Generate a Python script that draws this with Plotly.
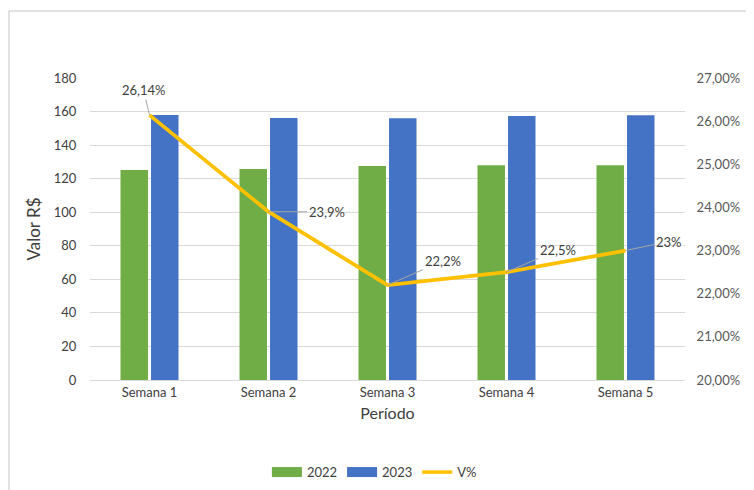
import plotly.graph_objects as go

categorias = ["Semana 1", "Semana 2", "Semana 3", "Semana 4", "Semana 5"]
valores_2022 = [125.2, 125.8, 127.5, 128.0, 128.0]
valores_2023 = [158.0, 156.2, 156.0, 157.4, 157.8]
variacao = [26.14, 23.9, 22.2, 22.5, 23.0]
rotulos_var = ["26,14%", "23,9%", "22,2%", "22,5%", "23%"]
label_offsets = [(-6, -25), (58, 0), (55, -24), (51, -22), (43, -9)]

font_family = "Lato, 'Open Sans', sans-serif"
txt = "#595959"
dark = "#404040"
grid = "#D9D9D9"
c2022, c2023, cvar = "#70AD47", "#4472C4", "#FFC000"

fig = go.Figure()
fig.add_trace(go.Bar(x=categorias, y=valores_2022, name="2022", showlegend=False,
                     marker=dict(color=c2022, line=dict(width=0))))
fig.add_trace(go.Bar(x=categorias, y=valores_2023, name="2023", showlegend=False,
                     marker=dict(color=c2023, line=dict(width=0))))
fig.add_trace(go.Scatter(x=categorias, y=variacao, name="V%", yaxis="y2",
                         mode="lines", line=dict(color=cvar, width=3.8), showlegend=False))

# legend proxies (Excel-style wide swatches)
for nome, cor, w in [("2022", c2022, 10), ("2023", c2023, 10), ("V%", cvar, 3.5)]:
    fig.add_trace(go.Scatter(x=[None], y=[None], name=nome, mode="lines",
                             line=dict(color=cor, width=w), showlegend=True))

annotations = []
for c, v, t, (ax, ay) in zip(categorias, variacao, rotulos_var, label_offsets):
    annotations.append(dict(x=c, y=v, xref="x", yref="y2", text=t,
                            showarrow=True, arrowhead=0, arrowwidth=1,
                            arrowcolor="#A6A6A6", ax=ax, ay=ay, standoff=0,
                            font=dict(size=13, color=dark, family=font_family)))

# page body has an 8px margin: figure coords = screen coords - 8
OFF = 8
W, H = 754, 490
ml, mt = 90 - OFF, 78 - OFF
mr = W - (685 - OFF)
mb = H - (380 - OFF)
pw, ph = W - ml - mr, H - mt - mb

def px_x(p):
    return (p - OFF - ml) / pw

def px_y(p):
    return 1 - (p - OFF - mt) / ph

shapes = [
    dict(type="line", xref="paper", yref="paper", x0=px_x(9), x1=px_x(9),
         y0=px_y(700), y1=px_y(11), line=dict(color=grid, width=1.5)),
    dict(type="line", xref="paper", yref="paper", x0=px_x(9), x1=px_x(900),
         y0=px_y(11), y1=px_y(11), line=dict(color=grid, width=1.5)),
]

fig.update_layout(
    width=W, height=H,
    margin=dict(l=ml, r=mr, t=mt, b=mb, autoexpand=False),
    paper_bgcolor="white", plot_bgcolor="white",
    font=dict(family=font_family, color=txt, size=13),
    separators=",.",
    barmode="group", bargap=0.487, bargroupgap=0.1,
    xaxis=dict(showgrid=False, showline=True, linecolor=grid, linewidth=1,
               ticks="", automargin=False, tickfont=dict(size=13, color=dark),
               title=dict(text="Período", font=dict(size=16, color=dark), standoff=9)),
    yaxis=dict(range=[0, 180], dtick=20, showgrid=True, gridcolor=grid, gridwidth=1,
               zeroline=False, showline=False, ticks="outside", ticklen=10,
               tickcolor="rgba(0,0,0,0)", automargin=False,
               tickfont=dict(size=13, color=dark),
               title=dict(text="Valor R$", font=dict(size=17, color=dark), standoff=8)),
    yaxis2=dict(range=[20, 27], dtick=1, overlaying="y", side="right",
                showgrid=False, zeroline=False, showline=False,
                ticks="outside", ticklen=8, tickcolor="rgba(0,0,0,0)", automargin=False,
                tickformat=".2f", ticksuffix="%",
                tickfont=dict(size=13, color=txt)),
    legend=dict(orientation="h", x=0.478, xanchor="center", y=-0.305, yanchor="middle",
                font=dict(size=13, color=dark), traceorder="normal",
                itemwidth=30),
    annotations=annotations,
    shapes=shapes,
    showlegend=True,
)

fig.write_html("out.html")
